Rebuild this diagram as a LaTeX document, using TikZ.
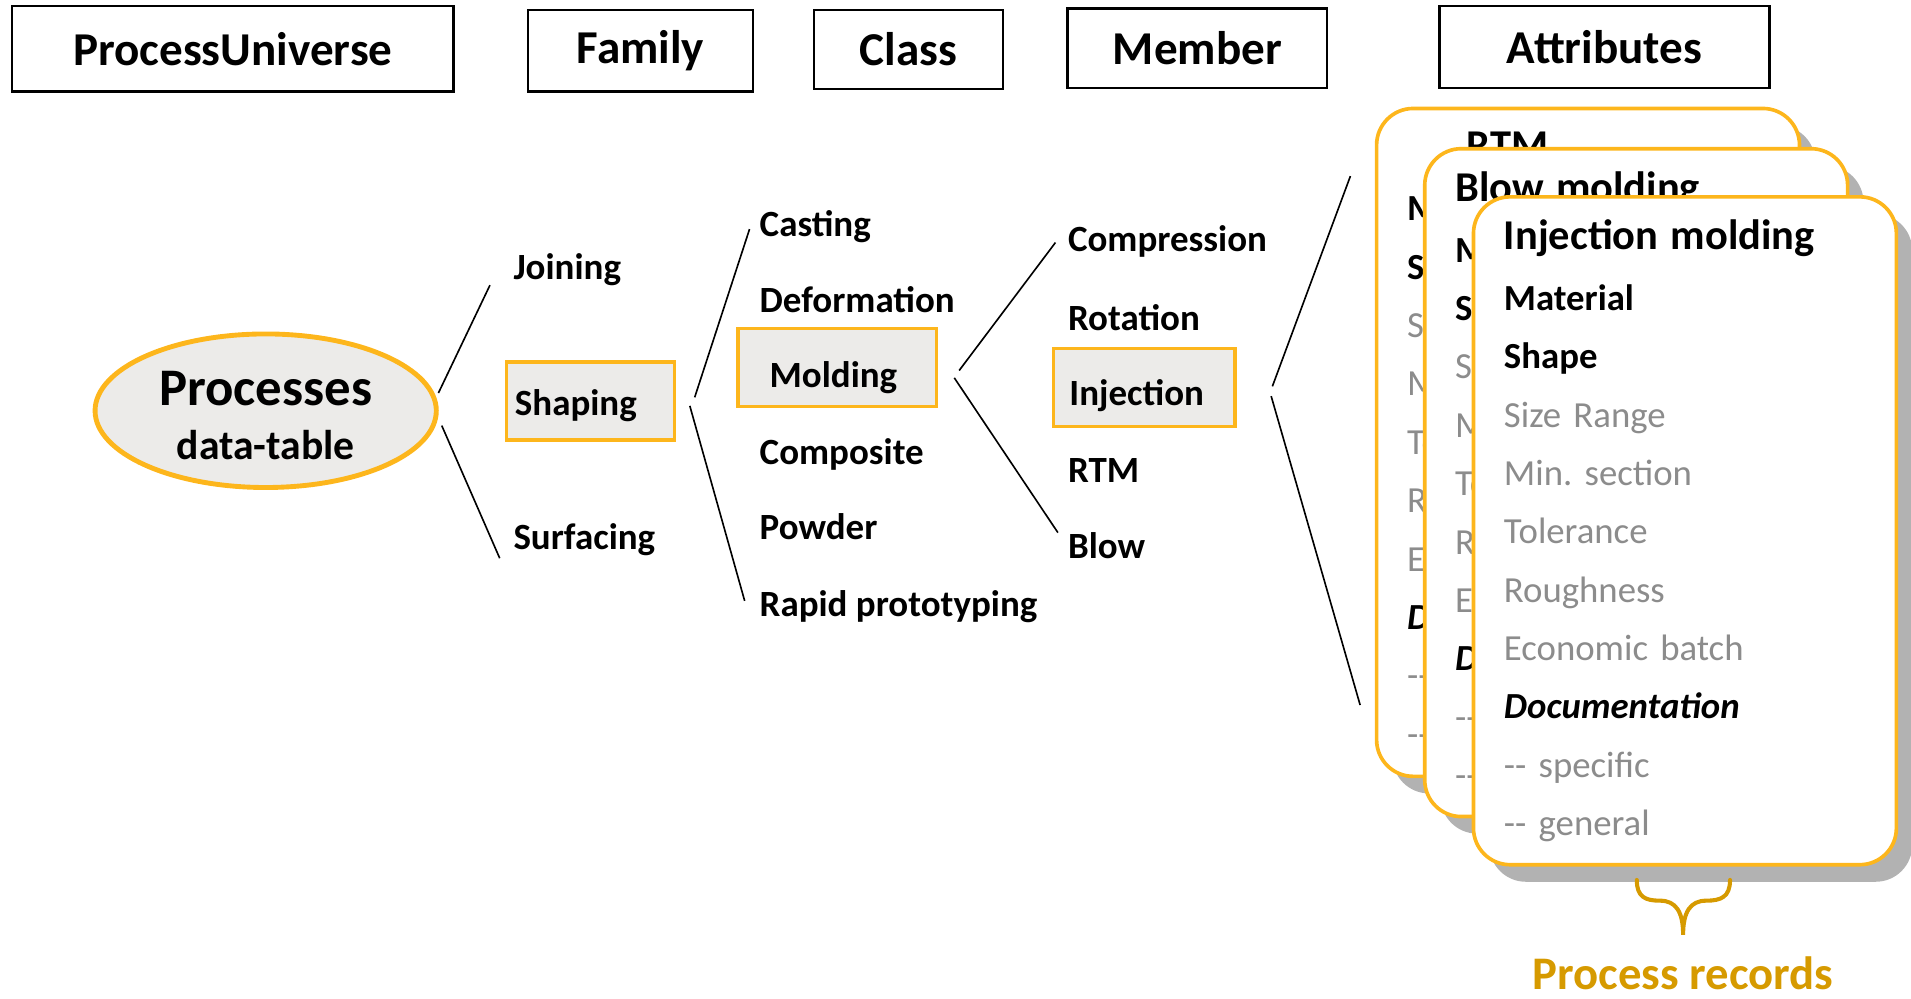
\documentclass[tikz,border=0pt]{standalone}
\usepackage{fontspec}
\setmainfont{Carlito}
\usetikzlibrary{shapes.geometric,shadows}
\definecolor{amber}{HTML}{FDB61C}
\definecolor{boxgray}{HTML}{ECEBE9}
\definecolor{attrgray}{HTML}{8C8C8C}
\definecolor{shadowgray}{HTML}{B2B2B2}
\definecolor{recgold}{HTML}{D69A00}
\newcommand{\cardtext}[2][0pt]{\hspace*{#1}{\fontsize{20.9}{28.74}\selectfont\bfseries #2}\\[1.26pt]
  \textbf{Material}\\
  \textbf{Shape}\\
  \textcolor{attrgray}{Size Range}\\
  \textcolor{attrgray}{Min.\ section}\\
  \textcolor{attrgray}{Tolerance}\\
  \textcolor{attrgray}{Roughness}\\
  \textcolor{attrgray}{Economic batch}\\
  {\bfseries\itshape Documentation}\\
  \textcolor{attrgray}{-{}- specific}\\
  \textcolor{attrgray}{-{}- general}}

\begin{document}
\begin{tikzpicture}[x=0.6pt,y=-0.6pt,
  head/.style={draw, line width=1.2pt, inner sep=0pt, font=\fontsize{23.2}{26}\selectfont\bfseries},
  lbl/.style={anchor=base west, inner sep=0pt, font=\fontsize{18.2}{22}\selectfont\bfseries},
  hl/.style={draw=amber, fill=boxgray, line width=1.8pt, anchor=west, inner ysep=0pt,
    minimum height=38.4pt, text depth=4pt, align=left, font=\fontsize{18.2}{22}\selectfont\bfseries},
  card/.style={draw=amber, fill=white, line width=1.8pt, rounded corners=18pt, anchor=north west,
    minimum width=208.2pt, minimum height=328.8pt, inner xsep=15pt, inner ysep=0pt,
    text width=178.2pt, align=left, font=\fontsize{18.1}{28.74}\selectfont,
    drop shadow={shadow xshift=7.8pt, shadow yshift=-8.4pt, fill=shadowgray, opacity=1}},
  link/.style={line width=0.8pt}]
\useasboundingbox (0,0) rectangle (1568,819);
\node[head, minimum width=217.2pt, minimum height=42pt] (huniv) at (191,40) {ProcessUniverse};
\node[head, minimum width=111pt, minimum height=40.2pt] (hfam) at (525.5,41.5) {Family};
\node[head, minimum width=93pt, minimum height=39pt] (hcls) at (745.5,40.5) {Class};
\node[head, minimum width=127.8pt, minimum height=39pt] (hmem) at (982.5,39.5) {Member};
\node[head, minimum width=162.6pt, minimum height=40.2pt] (hattr) at (1316.5,38.5) {Attributes};

\node[ellipse, draw=amber, fill=boxgray, line width=2.4pt, minimum width=168pt, minimum height=75.6pt,
  inner sep=0pt, align=center, text height=48pt, text depth=0pt,
  font=\fontsize{20.5}{26.4}\selectfont\bfseries] (proc) at (218,337)
  {{\fontsize{26}{26.4}\selectfont Processes}\\data-table};

\node[lbl] (join) at (421,229) {Joining};
\node[hl, inner xsep=4.2pt, text width=74.4pt, text height=18.4pt] (shape) at (414,329) {Shaping};
\node[lbl] (surf) at (421,451) {Surfacing};

\node[lbl] (cast) at (623,194) {Casting};
\node[lbl] (deform) at (623,256) {Deformation};
\node[hl, inner xsep=15.6pt, text width=66.6pt, text height=23.8pt] (mold) at (604,301.5) {Molding};
\node[lbl] (compos) at (623,381) {Composite};
\node[lbl] (powder) at (623,443) {Powder};
\node[lbl] (rapid) at (623,506) {Rapid prototyping};

\node[lbl] (compr) at (876,206) {Compression};
\node[lbl] (rot) at (876,271) {Rotation};
\node[hl, inner xsep=7.8pt, text width=73.8pt, text height=22pt] (inj) at (863,318) {Injection};
\node[lbl] (rtm) at (876,396) {RTM};
\node[lbl] (blow) at (876,458) {Blow};

\node[card] (rtmcard) at (1128,87.5) {\cardtext[29.4pt]{RTM}};
\node[card] (blowcard) at (1167.5,120.5) {\cardtext{Blow molding}};
\node[card] (injcard) at (1207.5,160) {\cardtext{Injection molding}};

\draw[link] ([xshift=2pt]proc.6) -- ([xshift=-11.4pt,yshift=-3pt]join.base west);
\draw[link] ([xshift=3pt]proc.-5) -- ([xshift=-6.6pt,yshift=-4.2pt]surf.base west);
\draw[link] ([xshift=9pt,yshift=1.8pt]shape.east) -- ([xshift=-4.8pt,yshift=3.6pt]cast.base west);
\draw[link] ([xshift=6.6pt,yshift=-2.4pt]shape.east) -- ([xshift=-7.2pt,yshift=7.8pt]rapid.base west);
\draw[link] ([xshift=10.2pt,yshift=-1.5pt]mold.east) -- ([xshift=-6pt,yshift=4.2pt]compr.base west);
\draw[link] ([xshift=7.8pt,yshift=-5.1pt]mold.east) -- ([xshift=-4.8pt,yshift=12.6pt]blow.base west);
\draw[link] ([xshift=17.4pt,yshift=0.6pt]inj.east) -- ([xshift=-12pt,yshift=131.1pt]rtmcard.west);
\draw[link] ([xshift=16.8pt,yshift=-4.2pt]inj.east) -- ([xshift=-7.2pt,yshift=-129.3pt]rtmcard.west);

\draw[recgold, line width=2pt, line cap=round] (1343,722) .. controls (1343,736) and (1350,739) .. (1362,739)
  .. controls (1375,739) and (1381,748) .. (1381,767)
  .. controls (1381,748) and (1387,739) .. (1400,739)
  .. controls (1412,739) and (1419.5,736) .. (1419.5,722);
\node[anchor=base, inner sep=0pt, text=recgold, font=\fontsize{23}{26}\selectfont\bfseries] (recs) at (1381,812) {Process records};
\end{tikzpicture}
\end{document}
